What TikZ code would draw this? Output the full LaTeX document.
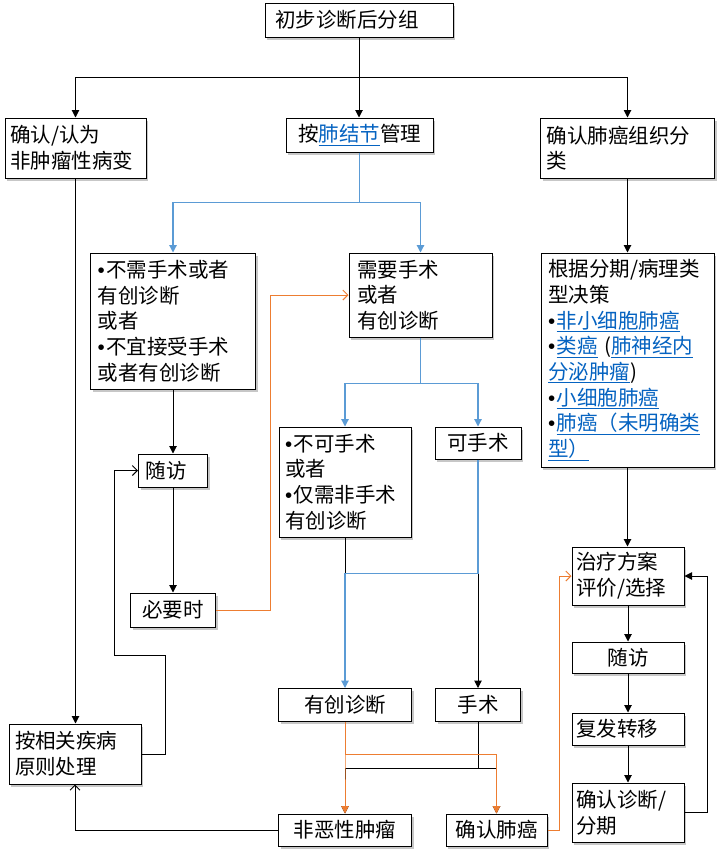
\documentclass[tikz,border=0pt]{standalone}
\usepackage{fontspec}
\setmainfont{Noto Sans CJK SC}
\newfontfamily\bulletfont{Liberation Sans}
\usetikzlibrary{arrows.meta,shadows}
\definecolor{lblue}{HTML}{5B9BD5}
\definecolor{lorange}{HTML}{ED7D31}
\definecolor{linkblue}{HTML}{0563C1}
\newcommand{\lnk}[1]{\textcolor{linkblue}{\underline{#1}}}
\newcommand{\bul}{{\bulletfont •}\kern1.5pt}
\tikzset{
  box/.style={draw=black, line width=1pt, fill=white, inner ysep=3pt,
    drop shadow={shadow xshift=2pt, shadow yshift=-2.5pt, fill=black, opacity=0.22}},
  lbox/.style={box, align=left},
  cbox/.style={box, align=center},
  ln/.style={draw=black, line width=1pt},
  bl/.style={draw=lblue, line width=1.2pt},
  orl/.style={draw=lorange, line width=1pt},
  fa/.style={-{Triangle[length=7.5pt,width=7.5pt]}},
  oa/.style={-{Straight Barb[length=5pt,width=10pt]}}
}
\begin{document}
\begin{tikzpicture}[x=1pt,y=-1pt,font=\fontsize{20.5}{25.7}\selectfont]
\fill[white] (0,0) rectangle (717,854);
\useasboundingbox (0,0) rectangle (717,854);

\node[lbox, minimum width=188pt, minimum height=34pt, text width=168pt, inner xsep=10pt] (top) at (359,20) {初步诊断后分组};
\node[lbox, minimum width=141pt, minimum height=60pt, text width=131pt, inner xsep=5pt] (nonTumor) at (75.5,148) {确认/认为\\非肿瘤性病变};
\node[cbox, minimum width=147pt, minimum height=34pt] (nodule) at (359.5,135) {按\lnk{肺结节}管理};
\node[lbox, minimum width=174pt, minimum height=60pt, text width=162pt, inner xsep=6pt] (histo) at (627.5,148) {确认肺癌组织分\\类};
\node[lbox, minimum width=165pt, minimum height=136pt, text width=151pt, inner xsep=7pt] (noSurg) at (173,321) {\bul 不需手术或者\\有创诊断\\或者\\\bul 不宜接受手术\\或者有创诊断};
\node[lbox, minimum width=143pt, minimum height=84pt, text width=127pt, inner xsep=8pt] (needSurg) at (420.5,295) {需要手术\\或者\\有创诊断};
\node[lbox, minimum width=173pt, minimum height=214pt, text width=159pt, inner xsep=7pt] (decide) at (627.5,360) {根据分期/病理类\\型决策\\\bul\lnk{非小细胞肺癌}\\\bul\lnk{类癌} (\lnk{肺神经内}\\\lnk{分泌肿瘤})\\\bul\lnk{小细胞肺癌}\\\bul\lnk{肺癌（未明确类}\\\lnk{型）}};
\node[lbox, minimum width=132pt, minimum height=110pt, text width=120pt, inner xsep=6pt] (notOp) at (345,482) {\bul 不可手术\\或者\\\bul 仅需非手术\\有创诊断};
\node[cbox, minimum width=86pt, minimum height=32pt] (canOp) at (478,443) {可手术};
\node[lbox, minimum width=69pt, minimum height=33pt, text width=55pt, inner xsep=7pt] (fuL) at (173,470.5) {随访};
\node[cbox, minimum width=85pt, minimum height=34pt] (needed) at (173,610) {必要时};
\node[lbox, minimum width=112pt, minimum height=58pt, text width=104pt, inner xsep=4pt] (treat) at (628,576) {治疗方案\\评价/选择};
\node[cbox, minimum width=112pt, minimum height=31pt] (fuR) at (628,657.5) {随访};
\node[cbox, minimum width=133pt, minimum height=33pt] (invasive) at (345,705) {有创诊断};
\node[cbox, minimum width=85pt, minimum height=33pt] (surgery) at (478,705) {手术};
\node[lbox, minimum width=112pt, minimum height=32pt, text width=104pt, inner xsep=4pt] (recur) at (628,729) {复发转移};
\node[lbox, minimum width=132pt, minimum height=60pt, text width=120pt, inner xsep=6pt] (handle) at (75,754) {按相关疾病\\原则处理};
\node[lbox, minimum width=112pt, minimum height=59pt, text width=104pt, inner xsep=4pt] (confirmStage) at (628,812.5) {确认诊断/\\分期};
\node[cbox, minimum width=133pt, minimum height=32pt] (benign) at (345,830) {非恶性肿瘤};
\node[cbox, minimum width=101pt, minimum height=32pt] (cancer) at (496.5,830) {确认肺癌};

% top level
\draw[ln,fa] (top.south) -- (top.south |- nodule.north);
\draw[ln,fa] (top.south) -- ++(0,40) -| (nonTumor.north);
\draw[ln,fa] (top.south) -- ++(0,40) -| (histo.north);
% nodule management
\draw[bl,fa] (nodule.south) -- ++(0,50) -| (noSurg.north);
\draw[bl,fa] (nodule.south) -- ++(0,50) -| (needSurg.north);
% left column
\draw[ln,fa] (nonTumor.south) -- (nonTumor.south |- handle.north);
\draw[ln,fa] (noSurg.south) -- (noSurg.south |- fuL.north);
\draw[ln,fa] (fuL.south) -- (needed.north);
\draw[orl,oa] (needed.east) -- ++(54,0) |- (needSurg.west);
% need surgery split
\draw[bl,fa] (needSurg.south) -- ++(0,46) -| (notOp.north);
\draw[bl,fa] (needSurg.south) -- ++(0,46) -| (canOp.north);
\draw[ln,fa] (notOp.south) -- ++(0,36) -| (surgery.north);
\draw[bl,fa] (canOp.south) -- ++(0,114) -| (invasive.north);
% results
\draw[ln,fa] (surgery.south) -- ++(0,46) -| (benign.north);
\draw[ln,fa] (surgery.south) -- ++(0,46) -| (cancer.north);
\draw[orl,fa] (invasive.south) -- ++(0,32) -| (benign.north);
\draw[orl,fa] (invasive.south) -- ++(0,32) -| (cancer.north);
\draw[ln,oa] (benign.west) -| (handle.south);
\draw[ln,oa] (handle.east) -- ++(24,0) -- ++(0,-99) -- ++(-51,0) |- (fuL.west);
% right column
\draw[ln,fa] (histo.south) -- (histo.south |- decide.north);
\draw[ln,fa] (decide.south) -- (decide.south |- treat.north);
\draw[orl,oa] (cancer.east) -- ++(12,0) |- (treat.west);
\draw[ln,fa] (treat.south) -- (fuR.north);
\draw[ln,fa] (fuR.south) -- (recur.north);
\draw[ln,fa] (recur.south) -- (confirmStage.north);
\draw[ln,fa] (confirmStage.east) -- ++(23,0) |- (treat.east);
\end{tikzpicture}
\end{document}
